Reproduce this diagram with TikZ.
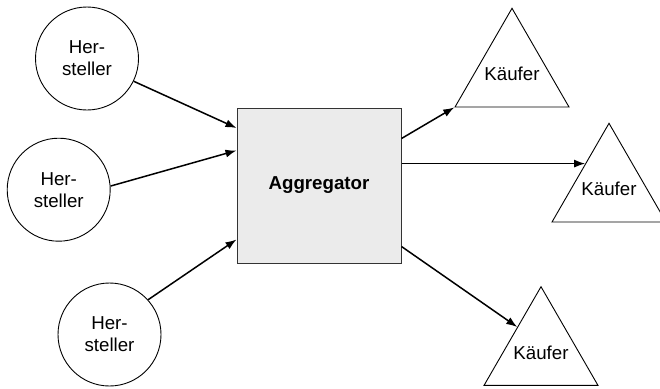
\documentclass[tikz,border=0pt]{standalone}
\usepackage{fontspec}
\setmainfont{Liberation Sans}
\usetikzlibrary{shapes.geometric,arrows.meta}

% text of zero width, so that only minimum size fixes the triangle
\newcommand\flatlabel[1]{\makebox[0pt]{#1}}

\begin{document}
\begin{tikzpicture}[x=1pt,y=-1pt,
  label font/.style={font=\fontsize{18.7}{22}\selectfont},
  party/.style={circle,draw,line width=0.9pt,minimum size=103pt,inner sep=0pt,
                align=center,label font},
  buyer/.style={regular polygon,regular polygon sides=3,draw,line width=0.9pt,
                minimum size=131.6pt,inner sep=0pt,label font},
  hub/.style={draw=black!80,fill=black!8,line width=1pt,minimum width=164pt,
              minimum height=155pt,inner sep=0pt,
              font=\bfseries\fontsize{18.7}{22}\selectfont},
  flow/.style={-{Latex[length=11pt,width=8pt]},line width=1.5pt}]
\useasboundingbox (0,0) rectangle (660,388);

% producers
\node[party] (c1) at (87,58.5)    {Her-\\steller};
\node[party] (c2) at (58.7,189.7) {Her-\\steller};
\node[party] (c3) at (109.5,334.5){Her-\\steller};

% central aggregator
\node[hub] (box) at (319,185.5) {Aggregator};

% buyers
\node[buyer] (t1) at (512,74.1)  {\flatlabel{Käufer}};
\node[buyer] (t2) at (609,189.1) {\flatlabel{Käufer}};
\node[buyer] (t3) at (541,352.5) {\flatlabel{Käufer}};

% incoming flows
\draw[flow] (c1.-26) -- ([yshift=-20.5pt]box.north west);
\draw[flow] (c2.4)   -- ([yshift=-43pt]box.north west);
\draw[flow] (c3.42)  -- ([yshift=24pt]box.south west);

% outgoing flows
\draw[flow] ([yshift=-31pt]box.north east) -- (t1.corner 2);
\draw[flow] (box.east |- t2.133) -- (t2.133);
\draw[flow] ([yshift=17pt]box.south east) -- (t3.133);
\end{tikzpicture}
\end{document}
